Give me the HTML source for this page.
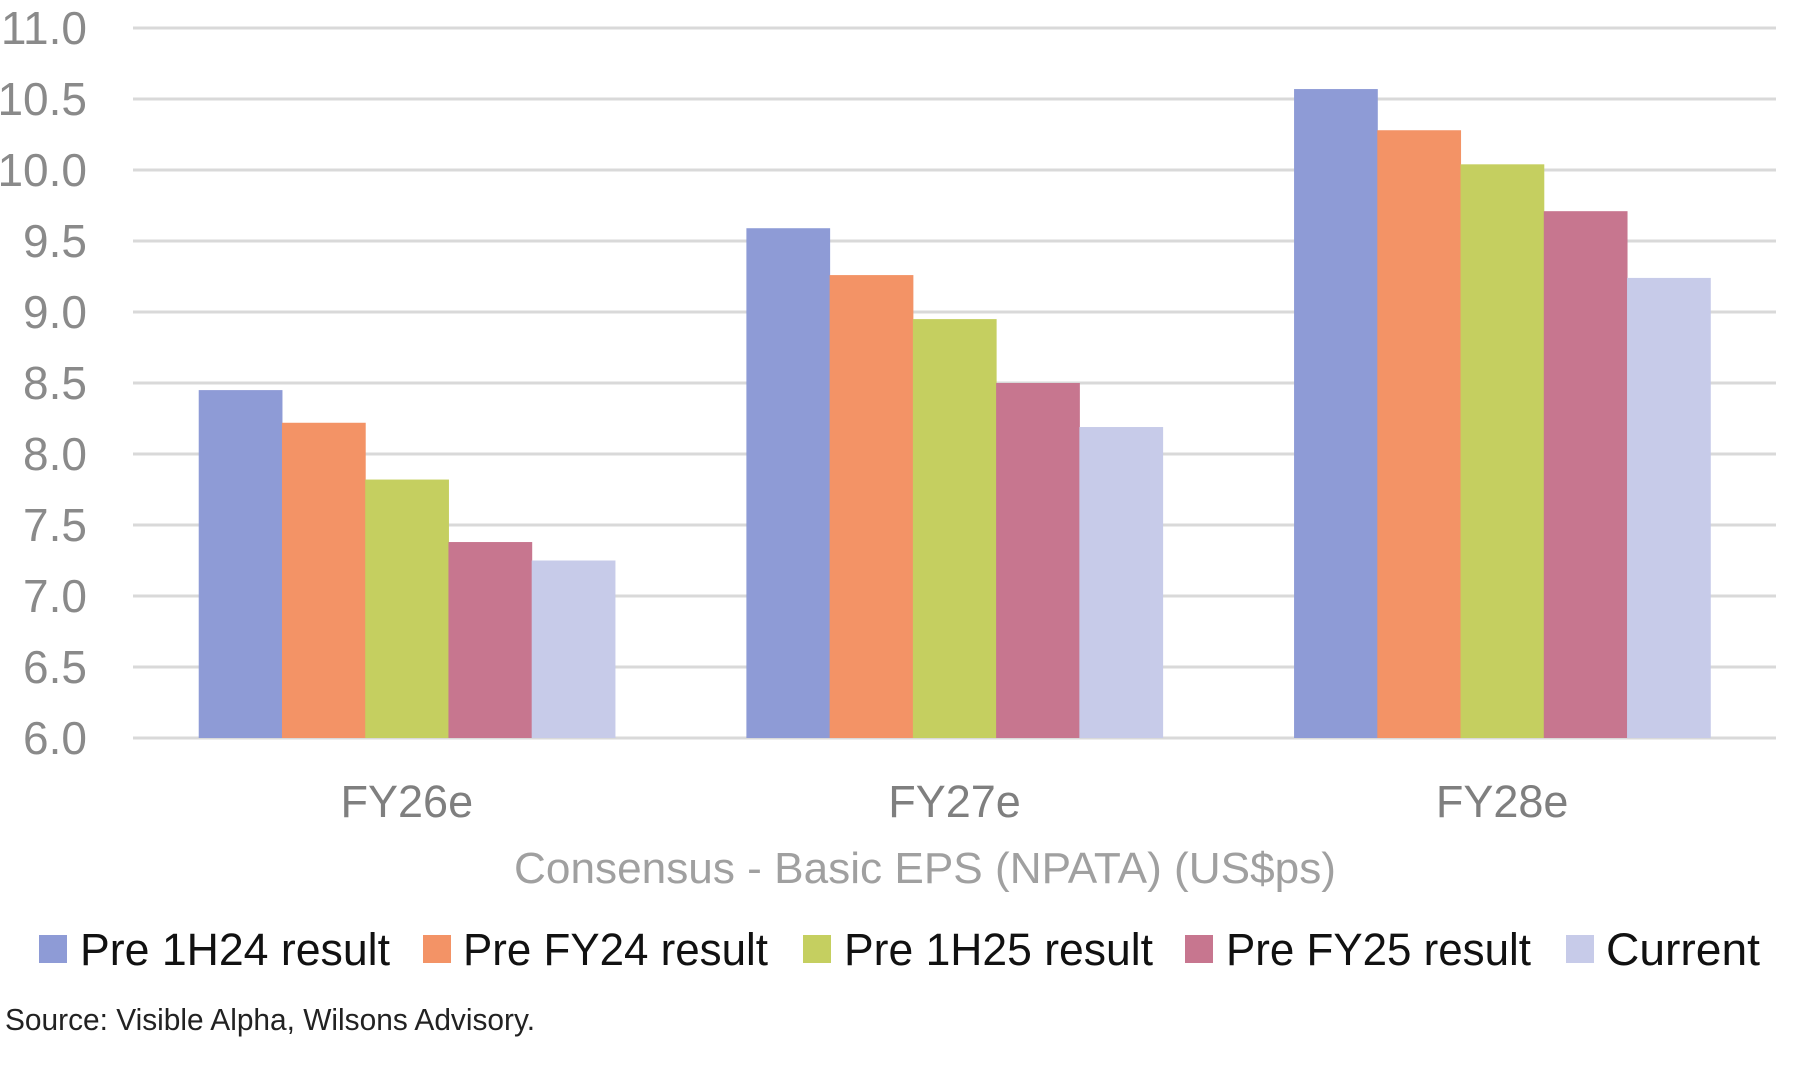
<!DOCTYPE html>
<html><head><meta charset="utf-8"><style>
html,body{margin:0;padding:0;background:#fff;}
svg{display:block;font-family:"Liberation Sans",sans-serif;}
</style></head><body>
<svg id="chart" width="1800" height="1070" viewBox="0 0 1800 1070">
<g id="grid"></g><g id="bars"></g><g id="ylabels"></g><g id="xlabels"></g>
<text x="925" y="883" text-anchor="middle" font-size="44" fill="#a0a0a0" textLength="822" lengthAdjust="spacingAndGlyphs">Consensus - Basic EPS (NPATA) (US$ps)</text>
<g id="legend"></g>
<text x="5" y="1030" font-size="31" fill="#222" textLength="530" lengthAdjust="spacingAndGlyphs">Source: Visible Alpha, Wilsons Advisory.</text>
</svg>
<script>
const categories = ["FY26e","FY27e","FY28e"];
const seriesNames = ["Pre 1H24 result","Pre FY24 result","Pre 1H25 result","Pre FY25 result","Current"];
const pre1H24 = [8.45, 9.59, 10.57];
const preFY24 = [8.22, 9.26, 10.28];
const pre1H25 = [7.82, 8.95, 10.04];
const preFY25 = [7.38, 8.50, 9.71];
const current = [7.25, 8.19, 9.24];
const yTicks = ["6.0","6.5","7.0","7.5","8.0","8.5","9.0","9.5","10.0","10.5","11.0"];

const series = [pre1H24, preFY24, pre1H25, preFY25, current];
const colors = ["#8e9bd6","#f39366","#c5cf60","#c7768f","#c7cbe9"];
const NS = "http://www.w3.org/2000/svg";
const plotL = 133, plotR = 1776, yMin = 6, yMax = 11, yBot = 738, yTop = 28;
const y = v => yBot - (v - yMin) / (yMax - yMin) * (yBot - yTop);
const catW = (plotR - plotL) / categories.length;
const groupW = catW * 0.76, barW = groupW / series.length;
const x = (ci, si) => plotL + ci * catW + (catW - groupW) / 2 + si * barW;
function mk(tag, attrs, parent){const e=document.createElementNS(NS,tag);for(const k in attrs)e.setAttribute(k,attrs[k]);parent.appendChild(e);return e;}

const grid = document.getElementById('grid'), yl = document.getElementById('ylabels');
yTicks.forEach(t => {
  const v = parseFloat(t);
  const l = mk('line',{x1:plotL,x2:plotR,y1:y(v),y2:y(v),stroke:'#d9d9d9','stroke-width':3},grid);
  
  
  const tx = mk('text',{x:87,y:y(v)+16,'text-anchor':'end','font-size':46,fill:'#8a8a8a'},yl);
  tx.textContent = t;
  
  
});
const bars = document.getElementById('bars'), xl = document.getElementById('xlabels');
categories.forEach((c, ci) => {
  series.forEach((s, si) => {
    const r = mk('rect',{x:x(ci,si),y:y(s[ci]),width:barW+0.5,height:yBot-y(s[ci]),fill:colors[si]},bars);
    
    
  });
  const t = mk('text',{x:plotL+ci*catW+catW/2,y:817,'text-anchor':'middle','font-size':45,fill:'#7f7f7f'},xl);
  t.textContent = c;
  
  
});
const lg = document.getElementById('legend');
const sqX = [39,423,803,1185,1566], txX = [80,463,844,1226,1606], txW = [310,305,309,305,154];
seriesNames.forEach((n, i) => {
  const g = mk('g',{},lg);
  
  
  mk('rect',{x:sqX[i],y:935,width:28,height:28,fill:colors[i]},g);
  const t = mk('text',{x:txX[i],y:965,'font-size':45,fill:'#111',textLength:txW[i],lengthAdjust:'spacingAndGlyphs'},g);
  t.textContent = n;
});
</script>
</body></html>
